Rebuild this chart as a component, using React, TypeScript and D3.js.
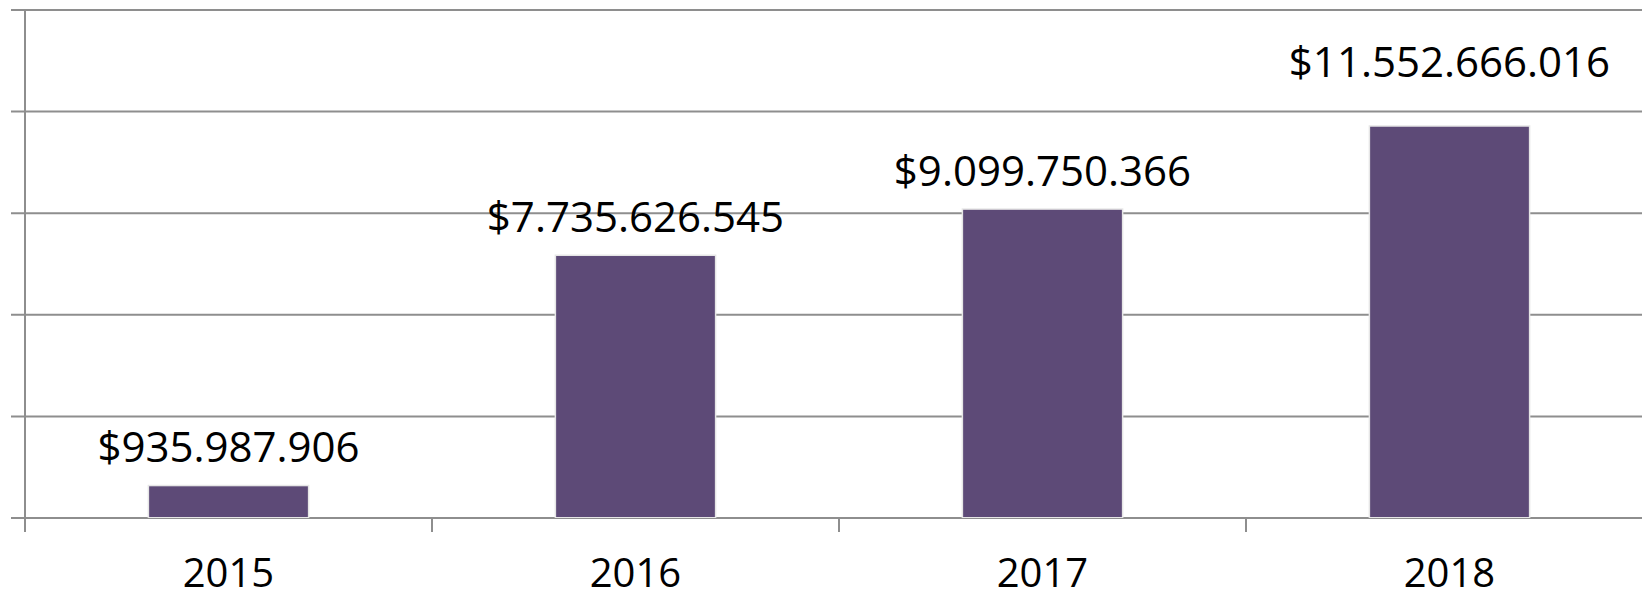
import React from "react";
import * as d3 from "d3";

const categories: string[] = ["2015", "2016", "2017", "2018"];
const values: number[] = [935987906, 7735626545, 9099750366, 11552666016];
const valueLabels: string[] = ["$935.987.906", "$7.735.626.545", "$9.099.750.366", "$11.552.666.016"];
const yTicks: number[] = [0, 3e9, 6e9, 9e9, 12e9, 15e9];

const W = 1642;
const H = 593;
const left = 25;
const step = 407;
const top = 10;
const bottom = 518;
// extra vertical lift for individual data labels (layout only)
const labelLift = [0, 0, 0, 26];

export default function App() {
  const x = d3
    .scaleBand<string>()
    .domain(categories)
    .range([left, left + step * categories.length])
    .paddingInner(0.61)
    .paddingOuter(0.305);
  const y = d3.scaleLinear().domain([0, 15e9]).range([bottom, top]);
  const boundaries = d3.range(categories.length + 1).map((i) => left + i * x.step());
  const grid = "#8e8e8e";
  const font = "'Open Sans', 'Noto Sans', sans-serif";

  return (
    <svg
      width={W}
      height={H}
      style={{ position: "absolute", left: 0, top: 0, background: "#fff" }}
    >
      {yTicks.map((t) => (
        <line key={t} x1={11} x2={W} y1={y(t)} y2={y(t)} stroke={grid} strokeWidth={2} />
      ))}
      <line x1={left} x2={left} y1={top} y2={bottom} stroke={grid} strokeWidth={2} />
      {boundaries.map((b, i) => (
        <line key={i} x1={b} x2={b} y1={bottom} y2={bottom + 14} stroke={grid} strokeWidth={2} />
      ))}
      {categories.map((c, i) => (
        <g key={c}>
          <rect
            x={x(c)! - 1.5}
            y={y(values[i]) - 1.5}
            width={x.bandwidth() + 3}
            height={bottom - y(values[i]) + 1.5}
            fill="#e6e6e6"
          />
          <rect
            x={x(c)}
            y={y(values[i])}
            width={x.bandwidth()}
            height={bottom - y(values[i]) - 1}
            fill="#5d4a77"
          />
        </g>
      ))}
      {categories.map((c, i) => (
        <text
          key={"l" + c}
          x={x(c)! + x.bandwidth() / 2}
          y={y(values[i]) - 24 - labelLift[i]}
          textAnchor="middle"
          fontFamily={font}
          fontSize={42}
          fill="#000"
        >
          {valueLabels[i]}
        </text>
      ))}
      {categories.map((c) => (
        <text
          key={"c" + c}
          x={x(c)! + x.bandwidth() / 2}
          y={587}
          textAnchor="middle"
          fontFamily={font}
          fontSize={40}
          fill="#000"
        >
          {c}
        </text>
      ))}
    </svg>
  );
}
